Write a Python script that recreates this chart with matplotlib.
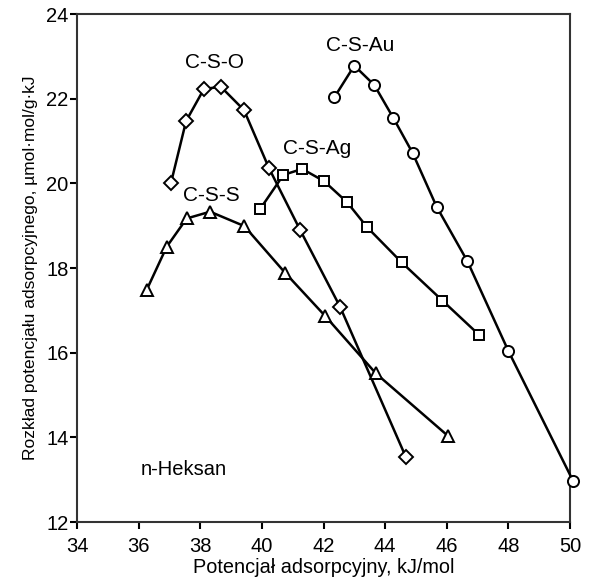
import matplotlib
matplotlib.use("Agg")
import matplotlib.pyplot as plt

plt.rcParams['font.family'] = ['Liberation Sans', 'DejaVu Sans']

cso_x = [37.05, 37.54, 38.12, 38.67, 39.42, 40.23, 41.24, 42.54, 44.67]
cso_y = [20.01, 21.47, 22.23, 22.28, 21.73, 20.36, 18.90, 17.08, 13.54]

css_x = [36.26, 36.91, 37.56, 38.32, 39.43, 40.75, 42.05, 43.70, 46.03]
css_y = [17.48, 18.50, 19.17, 19.33, 18.99, 17.89, 16.87, 15.51, 14.04]

csag_x = [39.94, 40.70, 41.31, 42.02, 42.77, 43.42, 44.54, 45.86, 47.05]
csag_y = [19.39, 20.20, 20.34, 20.05, 19.55, 18.96, 18.13, 17.23, 16.42]

csau_x = [42.35, 43.00, 43.65, 44.27, 44.89, 45.67, 46.67, 48.00, 50.10]
csau_y = [22.03, 22.78, 22.32, 21.54, 20.72, 19.45, 18.16, 16.04, 12.97]

x_ticks = [34, 36, 38, 40, 42, 44, 46, 48, 50]
y_ticks = [12, 14, 16, 18, 20, 22, 24]

fig = plt.figure(figsize=(5.92, 5.80), dpi=100)
ax = fig.add_axes([77/592, 1 - 522/580, (570-77)/592, (522-14)/580])

lw = 1.8
common = dict(color='black', lw=lw, mfc='white', mec='black', mew=1.4, clip_on=False, zorder=3)
ax.plot(cso_x, cso_y, marker='D', ms=7.5, **common)
ax.plot(css_x, css_y, marker='^', ms=8.5, **common)
ax.plot(csag_x, csag_y, marker='s', ms=7.5, **common)
ax.plot(csau_x, csau_y, marker='o', ms=8, **common)

fs = 15
ax.text(38.45, 22.62, 'C-S-O', ha='center', va='bottom', fontsize=fs)
ax.text(38.37, 19.5, 'C-S-S', ha='center', va='bottom', fontsize=fs)
ax.text(41.8, 20.6, 'C-S-Ag', ha='center', va='bottom', fontsize=fs)
ax.text(43.2, 23.02, 'C-S-Au', ha='center', va='bottom', fontsize=fs)
ax.text(37.47, 13.23, 'n-Heksan', ha='center', va='center', fontsize=14.5)

ax.set_xlim(34, 50)
ax.set_ylim(12, 24)
ax.set_xticks(x_ticks)
ax.set_yticks(y_ticks)
ax.tick_params(direction='out', length=5, width=1.5, labelsize=14.5, colors='black')
ax.tick_params(axis='x', pad=6)
ax.tick_params(axis='y', pad=1)
for s in ax.spines.values():
    s.set_linewidth(1.5)
    s.set_color('#333333')

ax.set_xlabel('Potencjał adsorpcyjny, kJ/mol', fontsize=14.3, labelpad=1)
ax.set_ylabel('Rozkład potencjału adsorpcyjnego, µmol·mol/g·kJ', fontsize=12.5, labelpad=6)

fig.savefig('out.png', dpi=100)
